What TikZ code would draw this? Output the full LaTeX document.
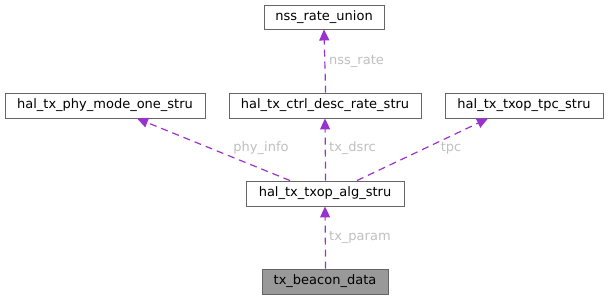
\documentclass[tikz,border=0pt]{standalone}
\usepackage{fontspec}
\setmainfont{DejaVu Sans}
\usetikzlibrary{arrows.meta}
\definecolor{edgec}{HTML}{9A32CD}
\definecolor{boxc}{HTML}{666666}
\definecolor{lblc}{HTML}{BFBFBF}
\definecolor{fillc}{HTML}{999999}
\begin{document}
\begin{tikzpicture}[x=1pt,y=-1pt,
  cls/.style={draw=boxc, line width=0.9pt, inner sep=0pt, minimum height=25pt, font=\fontsize{13}{15}\selectfont},
  rel/.style={color=edgec, line width=1.2pt, dash pattern=on 7pt off 5pt, -{Triangle[length=11pt,width=10pt]}},
  lbl/.style={text=lblc, font=\fontsize{13}{15}\selectfont, inner sep=0pt}]
\useasboundingbox (0,0) rectangle (608,300);
\node[cls, minimum width=120pt, minimum height=24pt] (nss) at (324,17) {nss\_rate\_union};
\node[cls, minimum width=200pt] (phy) at (105,105.5) {hal\_tx\_phy\_mode\_one\_stru};
\node[cls, minimum width=192pt] (ctrl) at (325,105.5) {hal\_tx\_ctrl\_desc\_rate\_stru};
\node[cls, minimum width=158pt] (tpc) at (524,105.5) {hal\_tx\_txop\_tpc\_stru};
\node[cls, minimum width=158pt] (alg) at (325,193.5) {hal\_tx\_txop\_alg\_stru};
\node[cls, minimum width=126pt, fill=fillc] (bcn) at (325,281.5) {tx\_beacon\_data};
\draw[rel] ([xshift=-35pt]alg.north) -- ([xshift=32pt]phy.south);
\draw[rel] ([xshift=0.6pt]alg.north) -- (ctrl.south);
\draw[rel] ([xshift=32pt]alg.north) -- ([xshift=-36pt]tpc.south);
\draw[rel] ([xshift=0.6pt]ctrl.north) -- (nss.south);
\draw[rel] ([xshift=0.6pt]bcn.north) -- (alg.south);
\node[lbl] (l1) at (261,148) {phy\_info};
\node[lbl, anchor=west] (l2) at (329,148) {tx\_dsrc};
\node[lbl] (l3) at (451,148) {tpc};
\node[lbl, anchor=west] (l4) at (329,61) {nss\_rate};
\node[lbl, anchor=west] (l5) at (329,237) {tx\_param};
\end{tikzpicture}
\end{document}
